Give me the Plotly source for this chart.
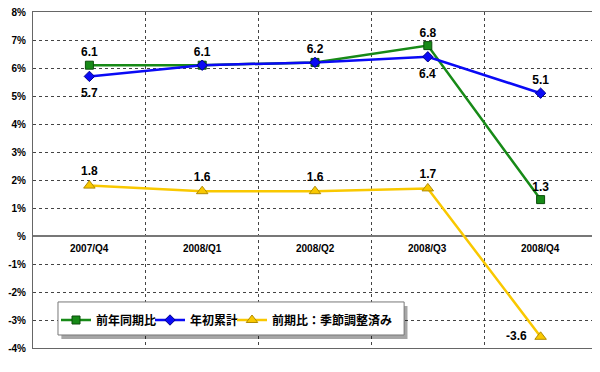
import plotly.graph_objects as go

categories = ["2007/Q4", "2008/Q1", "2008/Q2", "2008/Q3", "2008/Q4"]
yoy = [6.1, 6.1, 6.2, 6.8, 1.3]          # 前年同期比
ytd = [5.7, 6.1, 6.2, 6.4, 5.1]          # 年初累計
qoq = [1.8, 1.6, 1.6, 1.7, -3.6]         # 前期比：季節調整済み
names = ["前年同期比", "年初累計", "前期比：季節調整済み"]
yticks = [-4, -3, -2, -1, 0, 1, 2, 3, 4, 5, 6, 7, 8]
ytick_text = ["-4%", "-3%", "-2%", "-1%", "%", "1%", "2%", "3%", "4%", "5%", "6%", "7%", "8%"]

x = list(range(len(categories)))
lblfont = dict(family="Liberation Sans, Arial", size=12, color="black")
GREEN, BLUE, YELLOW = "#178A17", "#0A0AF5", "#F9C800"

fig = go.Figure()
fig.add_trace(go.Scatter(
    x=x, y=yoy, name=names[0], mode="lines+markers+text", legend="legend",
    line=dict(color=GREEN, width=2.5),
    marker=dict(symbol="square", size=8, color=GREEN, line=dict(color="#0B4D0B", width=1)),
    text=[f"<b>{v:.1f}</b>" for v in yoy],
    textposition="top center",
    textfont=lblfont,
))
fig.add_trace(go.Scatter(
    x=x, y=ytd, name=names[1], mode="lines+markers+text", legend="legend2",
    line=dict(color=BLUE, width=2.5),
    marker=dict(symbol="diamond", size=8, color=BLUE, line=dict(color="#00008B", width=1)),
    text=[f"<b>{v:.1f}</b>" if i == 4 else "" for i, v in enumerate(ytd)],
    textposition="top center",
    textfont=lblfont,
))
fig.add_trace(go.Scatter(
    x=x, y=qoq, name=names[2], mode="lines+markers+text", legend="legend3",
    line=dict(color=YELLOW, width=2.5),
    marker=dict(symbol="triangle-up", size=10, color=YELLOW, line=dict(color="#B08A00", width=1)),
    text=[f"<b>{v:.1f}</b>" if i < 4 else f"<b>{v:.1f}</b>  " for i, v in enumerate(qoq)],
    textposition=["top center", "top center", "top center", "top center", "middle left"],
    textfont=lblfont,
))

# blue labels shown below their markers
for i in (0, 3):
    fig.add_annotation(x=x[i], y=ytd[i], text=f"<b>{ytd[i]:.1f}</b>", showarrow=False,
                       yshift=-17, font=lblfont)

for i, c in enumerate(categories):
    fig.add_annotation(x=i, y=0, text=f"<b>{c}</b>", showarrow=False, yshift=-12,
                       font=dict(family="Liberation Sans Narrow, Liberation Sans, Arial", size=10, color="black"))

# legend box with shadow (paper coords of plot area)
lx0, lx1, ly0, ly1 = 0.0443, 0.658, 0.0387, 0.137
fig.add_shape(type="rect", xref="paper", yref="paper", x0=lx0 + 0.006, x1=lx1 + 0.006,
              y0=ly0 - 0.012, y1=ly1 - 0.012, fillcolor="rgba(0,0,0,0.35)", line=dict(width=0), layer="above")
fig.add_shape(type="rect", xref="paper", yref="paper", x0=lx0, x1=lx1, y0=ly0, y1=ly1,
              fillcolor="white", line=dict(color="#777777", width=1), layer="above")

legfont = dict(family="Noto Sans CJK JP", size=12, color="black", weight="bold")
legcommon = dict(orientation="h", xanchor="left", yanchor="middle", y=0.0833,
                 bgcolor="rgba(0,0,0,0)", borderwidth=0, font=legfont, itemwidth=30)

fig.update_layout(
    width=592, height=364,
    margin=dict(l=25, r=3, t=4, b=24, autoexpand=False),
    paper_bgcolor="white", plot_bgcolor="white",
    showlegend=True,
    legend=dict(x=(56 - 33) / 564, **legcommon),
    legend2=dict(x=(150 - 33) / 564, **legcommon),
    legend3=dict(x=(232 - 33) / 564, **legcommon),
    font=dict(family="Liberation Sans, Arial", color="black"),
)
fig.update_xaxes(range=[-0.5, 4.5], tickvals=[0.5, 1.5, 2.5, 3.5], showticklabels=False,
                 showgrid=True, gridcolor="#444444", griddash="dot", gridwidth=1,
                 showline=True, linecolor="#666666", linewidth=1, mirror=True, zeroline=False,
                 fixedrange=True)
fig.update_yaxes(range=[-4, 8], tickvals=yticks, ticktext=[f"<b>{t}</b>" for t in ytick_text],
                 tickfont=dict(size=10, family="Liberation Sans, Arial"),
                 showgrid=True, gridcolor="#444444", griddash="dot", gridwidth=1,
                 zeroline=True, zerolinecolor="#777777", zerolinewidth=1.5,
                 showline=True, linecolor="#666666", linewidth=1, mirror=True,
                 ticks="", ticklen=0, ticklabelstandoff=4, ticklabeloverflow="allow")

fig.write_html("out.html")
